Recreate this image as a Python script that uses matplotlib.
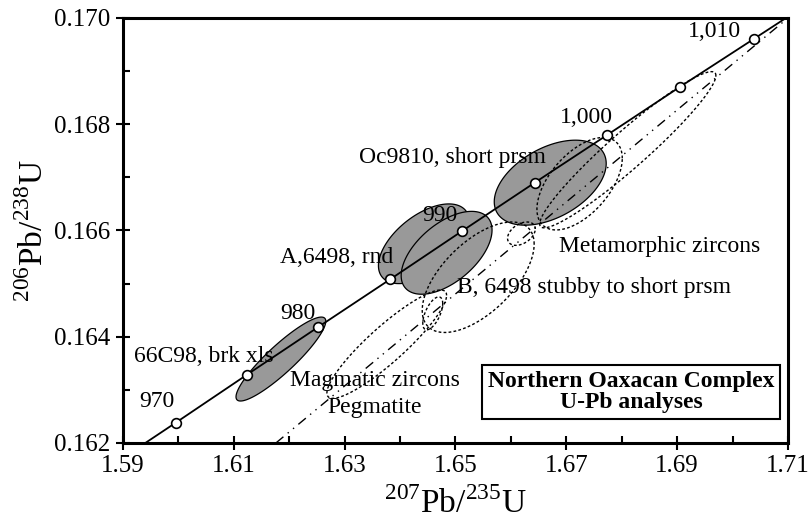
import numpy as np
import matplotlib.pyplot as plt

plt.rcParams['font.family'] = ['Liberation Serif', 'DejaVu Serif']
plt.rcParams['mathtext.fontset'] = 'custom'
plt.rcParams['mathtext.rm'] = 'Liberation Serif'

# concordia tick marks (age in Ma, 207Pb/235U, 206Pb/238U)
conc_age = [965, 970, 975, 980, 985, 990, 995, 1000, 1005, 1010, 1015]
conc_x = [1.5867, 1.5995, 1.6123, 1.6252, 1.6382, 1.6512, 1.6643, 1.6774, 1.6906, 1.7039, 1.7173]
conc_y = [0.16149, 0.16238, 0.16328, 0.16418, 0.16508, 0.16599, 0.16690, 0.16780, 0.16871, 0.16961, 0.17052]
conc_marks = [970, 975, 980, 985, 990, 995, 1000, 1005, 1010]
conc_labels = ['970', '980', '990', '1,000', '1,010']
conc_label_age = [970, 980, 990, 1000, 1010]

# error ellipses: centre x, centre y, sigma x, sigma y, rho
gray_ell = [
    (1.6185, 0.16358, 0.0081, 0.00079, 0.90),   # 66C98
    (1.6443, 0.16575, 0.0082, 0.00075, 0.55),   # A,6498
    (1.6484, 0.16558, 0.0082, 0.00078, 0.55),
    (1.6671, 0.16690, 0.0101, 0.00080, 0.45),   # Oc9810
]
dot_ell = [
    (1.6619, 0.16594, 0.0025, 0.00022, 0.40),
    (1.6724, 0.16688, 0.0077, 0.00087, 0.55),
    (1.6811, 0.16752, 0.0159, 0.00147, 0.95),
    (1.6459, 0.16444, 0.0018, 0.00031, 0.60),
    (1.6376, 0.16386, 0.0108, 0.00102, 0.90),
    (1.6541, 0.16512, 0.0101, 0.00104, 0.60),
]

# discordia
disc_x = [1.6176, 1.7100]
disc_y = [0.1620, 0.1700]

notes = [
    ('66C98, brk xls', 1.6046, 0.16362),
    ('A,6498, rnd', 1.6286, 0.16550),
    ('Oc9810, short prsm', 1.6494, 0.16738),
    ('Metamorphic zircons', 1.6868, 0.16569),
    ('B, 6498 stubby to short prsm', 1.6750, 0.16492),
    ('Magmatic zircons', 1.6354, 0.16317),
    ('Pegmatite', 1.6354, 0.16266),
]


def ellipse(cx, cy, sx, sy, rho, n=200):
    cov = np.array([[sx * sx, rho * sx * sy], [rho * sx * sy, sy * sy]])
    L = np.linalg.cholesky(cov)
    t = np.linspace(0, 2 * np.pi, n)
    p = L @ np.vstack([np.cos(t), np.sin(t)])
    return cx + p[0], cy + p[1]


fig = plt.figure(figsize=(8.09, 5.23), dpi=100)
ax = fig.add_axes([0.152, 0.153, 0.822, 0.8126])

for e in gray_ell:
    ex, ey = ellipse(*e)
    ax.fill(ex, ey, facecolor='#999999', edgecolor='black', linewidth=0.9, zorder=2)

for e in dot_ell:
    ex, ey = ellipse(*e)
    ax.plot(ex, ey, color='black', linewidth=1.0, linestyle=(0, (2, 1.6)), zorder=3)

ax.plot(disc_x, disc_y, color='black', linewidth=1.0,
        linestyle=(0, (7, 4, 1, 4, 1, 4)), zorder=3)

ax.plot(conc_x, conc_y, color='black', linewidth=1.3, zorder=4)
mx = [conc_x[conc_age.index(a)] for a in conc_marks]
my = [conc_y[conc_age.index(a)] for a in conc_marks]
ax.plot(mx, my, 'o', markersize=7, markerfacecolor='white',
        markeredgecolor='black', markeredgewidth=1.2, zorder=5)

offs = {970: (-0.0034, 0.00040), 980: (-0.0036, 0.00026), 990: (-0.0041, 0.00030),
        1000: (-0.0038, 0.00032), 1010: (-0.0072, 0.00013)}
for lab, a in zip(conc_labels, conc_label_age):
    i = conc_age.index(a)
    dx, dy = offs[a]
    ax.text(conc_x[i] + dx, conc_y[i] + dy, lab, fontsize=17,
            ha='center', va='center', zorder=6)

for s, x, y in notes:
    ax.text(x, y, s, fontsize=17, ha='center', va='center', zorder=6)

ax.text(1.6817, 0.16296, 'Northern Oaxacan Complex\nU-Pb analyses', fontsize=17,
        fontweight='bold', ha='center', va='center', linespacing=1.0, zorder=7,
        bbox=dict(boxstyle='square,pad=0.25', facecolor='white', edgecolor='black', linewidth=1.5))

ax.set_xlim(1.59, 1.71)
ax.set_ylim(0.162, 0.170)
ax.set_xticks([1.59, 1.61, 1.63, 1.65, 1.67, 1.69, 1.71])
ax.set_xticklabels(['1.59', '1.61', '1.63', '1.65', '1.67', '1.69', '1.71'])
ax.set_xticks(np.arange(1.60, 1.705, 0.02), minor=True)
ax.set_yticks([0.162, 0.164, 0.166, 0.168, 0.170])
ax.set_yticklabels(['0.162', '0.164', '0.166', '0.168', '0.170'])
ax.set_yticks([0.163, 0.165, 0.167, 0.169], minor=True)
ax.tick_params(which='major', direction='inout', length=10, width=1.5, labelsize=18, pad=4)
ax.tick_params(which='minor', direction='in', length=5, width=1.5)
for sp in ax.spines.values():
    sp.set_linewidth(2.2)

ax.set_xlabel(r'$^{207}$Pb/$^{235}$U', fontsize=24, labelpad=7)
ax.set_ylabel(r'$^{206}$Pb/$^{238}$U', fontsize=24, labelpad=3)

fig.savefig('out.png', dpi=100)
